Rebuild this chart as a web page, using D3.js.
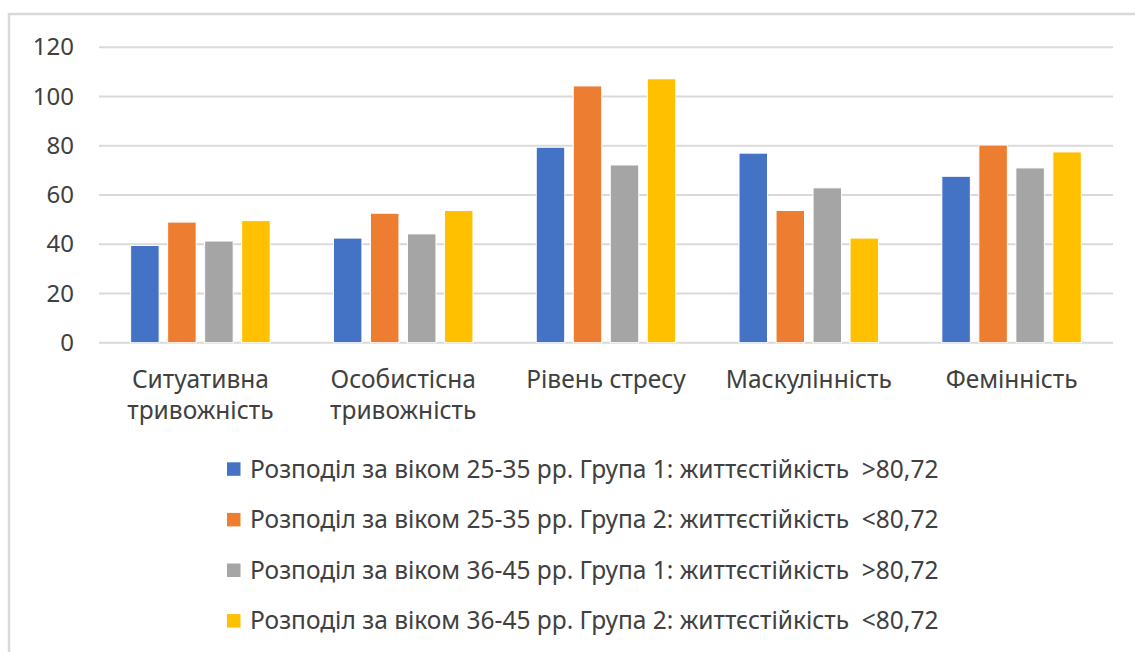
<!DOCTYPE html>
<html>
<head>
<meta charset="utf-8">
<script src="https://cdn.jsdelivr.net/npm/d3@7"></script>
<style>
  html, body { margin: 0; padding: 0; background: #fff; }
  svg { display: block; }
  text { font-family: "Segoe UI", "Noto Sans", "Open Sans", sans-serif; fill: #404040; white-space: pre; }
</style>
</head>
<body>
<svg id="chart" width="1135" height="652"></svg>
<script>
// Categories (each label split into its display lines)
const categories = ["Ситуативна тривожність", "Особистісна тривожність", "Рівень стресу", "Маскулінність", "Фемінність"];
const categoryLines = [
  ["Ситуативна", "тривожність"],
  ["Особистісна", "тривожність"],
  ["Рівень стресу"],
  ["Маскулінність"],
  ["Фемінність"]
];

// Series names
const seriesNames = [
  "Розподіл за віком 25-35 рр. Група 1: життєстійкість  >80,72",
  "Розподіл за віком 25-35 рр. Група 2: життєстійкість  <80,72",
  "Розподіл за віком 36-45 рр. Група 1: життєстійкість  >80,72",
  "Розподіл за віком 36-45 рр. Група 2: життєстійкість  <80,72"
];

// Series values, one per category
const age2535group1 = [39.5, 42.5, 79.4, 77.0, 67.6];
const age2535group2 = [49.0, 52.6, 104.3, 53.7, 80.3];
const age3645group1 = [41.3, 44.2, 72.2, 62.9, 71.0];
const age3645group2 = [49.6, 53.7, 107.2, 42.5, 77.5];
const seriesValues = [age2535group1, age2535group2, age3645group1, age3645group2];

const seriesColors = ["#4472C4", "#ED7D31", "#A5A5A5", "#FFC000"];

// Value axis ticks
const yTicks = [0, 20, 40, 60, 80, 100, 120];

const svg = d3.select("#chart");
const W = 1135, H = 652;
const fontSize = 24.5;

svg.append("rect").attr("width", W).attr("height", H).attr("fill", "#fff");

// Outer chart frame
svg.append("rect")
  .attr("x", 9).attr("y", 14)
  .attr("width", W - 9 + 5).attr("height", H)
  .attr("fill", "none")
  .attr("stroke", "#d9d9d9")
  .attr("stroke-width", 2.5);

const plot = { left: 99, right: 1113, top: 47.3, bottom: 342.7 };

const y = d3.scaleLinear().domain([0, 120]).range([plot.bottom, plot.top]);
const x0 = d3.scaleBand().domain(categories).range([plot.left, plot.right]).padding(0);
const groupFrac = 0.688;
const gw = x0.bandwidth() * groupFrac;
const goff = (x0.bandwidth() - gw) / 2;
const x1 = d3.scaleBand().domain(d3.range(seriesNames.length)).range([goff, goff + gw]).paddingInner(0.23).paddingOuter(0);

// Gridlines
svg.append("g")
  .selectAll("line")
  .data(yTicks)
  .join("line")
  .attr("x1", plot.left).attr("x2", plot.right)
  .attr("y1", d => y(d)).attr("y2", d => y(d))
  .attr("stroke", "#d9d9d9")
  .attr("stroke-width", 2);

// Y axis labels
const yAxis = d3.axisLeft(y).tickValues(yTicks).tickSize(0).tickPadding(0);
const yG = svg.append("g").attr("transform", "translate(74,0)").call(yAxis);
yG.select(".domain").remove();
yG.selectAll("text")
  .attr("font-size", 24)
  .attr("font-family", null)
  .style("fill", "#404040");

// Bars
const groups = svg.append("g")
  .selectAll("g")
  .data(categories)
  .join("g")
  .attr("transform", d => `translate(${x0(d)},0)`);

groups.selectAll("rect")
  .data((d, ci) => seriesValues.map((vals, si) => ({ si, v: vals[ci] })))
  .join("rect")
  .attr("x", d => x1(d.si))
  .attr("width", x1.bandwidth())
  .attr("y", d => y(d.v))
  .attr("height", d => y(0) - y(d.v))
  .attr("fill", d => seriesColors[d.si])
  .attr("stroke", "#fff")
  .attr("stroke-width", 1);

// Category labels
const catG = svg.append("g");
categories.forEach((c, i) => {
  const t = catG.append("text")
    .attr("x", x0(c) + x0.bandwidth() / 2)
    .attr("y", 388)
    .attr("text-anchor", "middle")
    .attr("font-size", fontSize);
  categoryLines[i].forEach((line, li) => {
    t.append("tspan")
      .attr("x", x0(c) + x0.bandwidth() / 2)
      .attr("y", 388 + li * 30.5)
      .text(line);
  });
});

// Legend
const legend = svg.append("g")
  .selectAll("g")
  .data(seriesNames)
  .join("g")
  .attr("transform", (d, i) => `translate(227,${469 + i * 50.6})`);

legend.append("rect")
  .attr("x", 0).attr("y", -6.7)
  .attr("width", 13.5).attr("height", 13.5)
  .attr("fill", (d, i) => seriesColors[i]);

legend.append("text")
  .attr("x", 23)
  .attr("y", 8.5)
  .attr("font-size", fontSize)
  .text(d => d);
</script>
</body>
</html>
